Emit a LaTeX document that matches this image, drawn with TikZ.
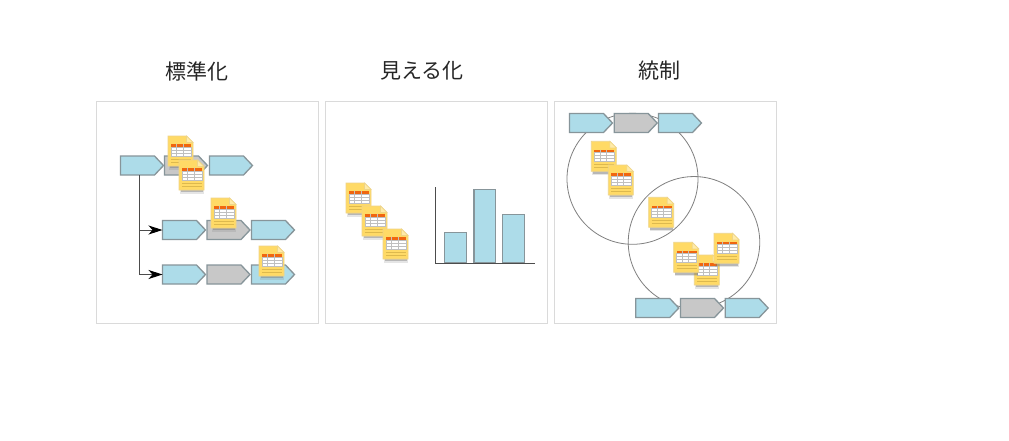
\documentclass[tikz,border=0pt]{standalone}
\usepackage{fontspec}
\setmainfont{Noto Sans CJK JP}
\usetikzlibrary{shapes.symbols,arrows.meta}
\definecolor{procblue}{HTML}{ADDCE9}
\definecolor{procgrey}{HTML}{C8C8C8}
\definecolor{procedge}{HTML}{87959A}
\definecolor{docyellow}{HTML}{FFDA66}
\definecolor{docedge}{HTML}{EED488}
\definecolor{docfold}{HTML}{FFEBA8}
\definecolor{docline}{HTML}{DDB94E}
\definecolor{docorange}{HTML}{F0660F}
\definecolor{panel}{HTML}{DADADA}
\tikzset{
  x=1pt,y=-1pt,
  panelbox/.style={draw=panel,line width=1pt,fill=white},
  title/.style={font=\fontsize{21}{25}\selectfont,text=black!85,inner sep=0pt},
  proc/.style={shape=signal,signal to=east,signal from=nowhere,signal pointer angle=93,
    minimum width=43pt,minimum height=19pt,inner sep=0pt,outer sep=0pt,draw=procedge,line width=1.3pt},
  pblue/.style={proc,fill=procblue},
  pgrey/.style={proc,fill=procgrey},
  ring/.style={draw=black!50,line width=0.8pt},
  link/.style={draw=black!70,line width=1pt,-{Stealth[length=14pt,width=9pt,inset=4pt,black]}},
  axis/.style={draw=black!70,line width=1pt},
  bar/.style={draw=procedge,line width=1.3pt,fill=procblue},
  doc/.pic={
    \fill[black!50,opacity=.2] (1,24) rectangle (24.5,33.6);
    \fill[black!55,opacity=.4] (1.5,24) rectangle (24,32.2);
    \draw[docedge,line width=.8pt,fill=docyellow] (0,0) -- (18.5,0) -- (25,6.5) -- (25,30) -- (0,30) -- cycle;
    \draw[docedge,line width=.6pt,fill=docfold] (18.5,0) -- (18.5,6.5) -- (25,6.5) -- cycle;
    \fill[white] (2.8,8.2) rectangle (23,20.3);
    \fill[docorange] (2.8,8.2) rectangle (23,10.8);
    \draw[black!25,line width=.5pt] (2.8,10.8) rectangle (23,20.3)
      (2.8,14) -- (23,14) (2.8,17.2) -- (23,17.2)
      (8.5,8.2) -- (8.5,20.3) (15,8.2) -- (15,20.3);
    \draw[docline,line width=.8pt] (2.8,23) -- (23,23) (2.8,26) -- (23,26);
  }
}
\begin{document}
\begin{tikzpicture}
\useasboundingbox (0,0) rectangle (1009,440);
% panels
\path[panelbox] (96,101.7) rectangle (318.5,323.8);
\path[panelbox] (325,101.7) rectangle (547.5,323.8);
\path[panelbox] (554,101.7) rectangle (776.5,323.8);
% titles
\node[title] (t1) at (197,71) {標準化};
\node[title] (t2) at (422,71) {見える化};
\node[title] (t3) at (659,71) {統制};
% panel 1
\node[pgrey] (a2) at (181.5,165.5) {};
\node[pblue] (a3) at (226.5,165.5) {};
\node[pblue] (a1) at (137.5,165.5) {};
\node[pblue] (b1) at (179.5,230) {};
\node[pgrey] (b2) at (224,230) {};
\node[pblue] (b3) at (268.5,230) {};
\node[pblue] (c1) at (179.5,274.5) {};
\node[pgrey] (c2) at (224,274.5) {};
\node[pblue] (c3) at (268.5,274.5) {};
\draw[link] ([xshift=2.2pt]a1.south) |- (b1.west);
\draw[link] ([xshift=2.2pt]a1.south) |- (c1.west);
\pic at (168,136) {doc};
\pic at (179,160) {doc};
\pic at (211,198) {doc};
\pic at (259,246) {doc};
% panel 2
\pic at (346,183) {doc};
\pic at (362,206) {doc};
\pic at (383,229) {doc};
\path[bar] (444.7,262.5) rectangle (466.7,232.5);
\path[bar] (474,262.5) rectangle (495.3,189.5);
\path[bar] (502.7,262.5) rectangle (524.3,214.5);
\coordinate (ax0) at (435.5,263);
\coordinate (axy) at (435.5,187);
\coordinate (axx) at (535,263);
\draw[axis] (axy) -- (ax0) -- (axx);
% panel 3
\node[ring,circle,minimum size=131pt,inner sep=0pt] (r1) at (632.5,178.8) {};
\node[ring,circle,minimum size=131.5pt,inner sep=0pt] (r2) at (694,242.3) {};
\node[pblue] (d1) at (586.5,123) {};
\node[pgrey] (d2) at (631.2,123) {};
\node[pblue] (d3) at (675.5,123) {};
\node[pblue] (e1) at (652.8,308) {};
\node[pgrey] (e2) at (697.5,308) {};
\node[pblue] (e3) at (742.2,308) {};
\pic at (591.3,141.3) {doc};
\pic at (608.3,165) {doc};
\pic at (648.7,197.3) {doc};
\pic at (694.3,255) {doc};
\pic at (714,233.3) {doc};
\pic at (673.7,242.3) {doc};
\end{tikzpicture}
\end{document}
